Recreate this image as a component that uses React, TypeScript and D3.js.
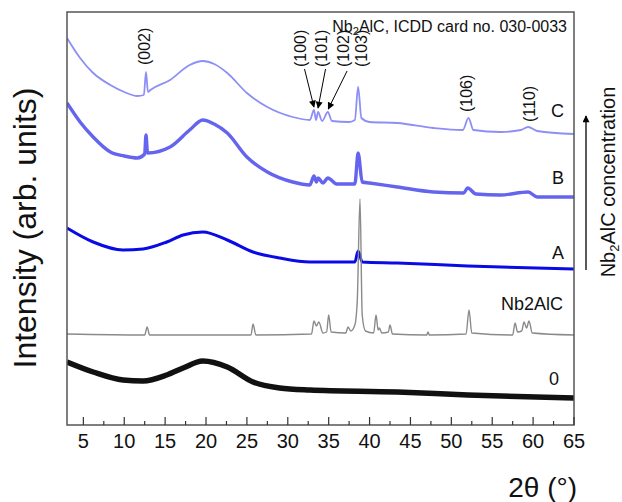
import React from 'react';
import * as d3 from 'd3';

// ---- data (2θ in degrees, intensity in arb. units) ----
const xMajorTicks = [5, 10, 15, 20, 25, 30, 35, 40, 45, 50, 55, 60, 65];
const xMinorTicks = [7.5, 12.5, 17.5, 22.5, 27.5, 32.5, 37.5, 42.5, 47.5, 52.5, 57.5, 62.5];
const xTickLabels = ['5', '10', '15', '20', '25', '30', '35', '40', '45', '50', '55', '60', '65'];

const seriesNames = ['C', 'B', 'A', 'Nb2AlC', '0'];

const seriesC: [number, number][] = [
  [3.0, 387], [4.6, 367], [6.2, 352], [8.3, 340], [10, 333], [11.6, 329], [12.4, 330],
  [12.66, 353], [12.9, 333], [13.2, 335], [15.6, 345], [18.0, 360], [19.6, 364], [21, 361],
  [22.6, 352], [25.0, 332], [27.5, 318], [30.6, 308], [32.7, 305], [33.2, 315], [33.45, 305],
  [33.7, 313], [34.2, 304], [34.9, 313], [35.4, 304], [37.5, 303], [38.2, 305], [38.6, 338],
  [39.0, 307], [40, 303], [43.4, 302], [47.8, 297], [51.4, 295], [52.1, 307], [52.7, 295],
  [56, 293], [58.5, 295], [59.4, 298], [60.5, 294], [65, 291],
];

const seriesB: [number, number][] = [
  [3.0, 322], [4.6, 303], [6.2, 288], [8.3, 273], [10, 269], [11.6, 267], [12.5, 271],
  [12.66, 290], [12.85, 272], [15.6, 278], [18.0, 295], [19.6, 305], [21, 301], [22.6, 292],
  [25.0, 268], [27.5, 253], [30.6, 243], [32.7, 240], [33.2, 249], [33.5, 243], [33.7, 247],
  [34.3, 242], [34.9, 247], [36, 241], [38.2, 241], [38.6, 272], [39.1, 243], [40, 242],
  [43.4, 238], [47.8, 233], [51.5, 232], [52.0, 237], [53, 231], [56, 230], [59.4, 233],
  [60.5, 228], [65, 228],
];

const seriesA: [number, number][] = [
  [3.0, 197], [6.2, 183], [9.85, 175], [12.3, 176], [15.2, 183], [17.2, 190], [19.6, 193],
  [22.6, 185], [25.75, 173], [29, 167], [32.7, 163], [38.2, 163], [38.6, 174], [39.1, 163],
  [43.4, 162], [52, 159], [65, 156],
];

const seriesNb2AlC: [number, number][] = [
  [3.0, 91], [12.5, 90], [12.8, 98], [13.1, 90], [25.5, 90], [25.75, 101], [26.1, 90],
  [32.9, 91], [33.2, 104], [33.5, 99], [33.8, 103], [34.3, 92], [34.75, 93], [35.0, 110],
  [35.3, 93], [37.1, 92], [37.36, 98], [37.7, 94], [38.2, 100], [38.5, 125], [38.83, 226],
  [39.1, 110], [39.5, 94], [40.5, 92], [40.79, 110], [41.05, 95], [41.2, 97], [41.5, 92],
  [42.3, 93], [42.5, 100], [42.8, 91], [47.0, 90], [47.15, 93], [47.3, 90], [51.8, 91],
  [52.16, 115], [52.5, 92], [57.5, 90], [57.79, 102], [58.1, 93], [58.6, 94], [58.89, 103],
  [59.2, 97], [59.5, 104], [59.9, 92], [65, 90],
];

const series0: [number, number][] = [
  [3.0, 63], [6.2, 53], [9.85, 45], [12.3, 44], [15.2, 50], [17.2, 57], [19.6, 64],
  [22.6, 58], [25.75, 43], [29, 37], [32.7, 35], [43.4, 33], [52, 30], [65, 27],
];

const peakLabels = ['(002)', '(100)', '(101)', '(102)', '(103)', '(106)', '(110)'];
const peakLabelPos = [12.66, 31.68, 34.25, 36.88, 39.14, 51.98, 59.62];
const peakArrowTargets = [null, 33.2, 33.7, 34.95, null, null, null];

// ---- layout ----
const W = 622;
const H = 502;
const L = 67, R = 574, T = 12, B = 425;
const FONT = "'Liberation Sans', Arial, Helvetica, sans-serif";

export default function App() {
  const x = d3.scaleLinear().domain([3, 65]).range([L, R]);
  const y = d3.scaleLinear().domain([0, 413]).range([B, T]);
  const line = d3
    .line<[number, number]>()
    .x((d) => x(d[0]))
    .y((d) => y(d[1]))
    .curve(d3.curveMonotoneX);

  const curves = [
    { data: seriesC, color: '#8e8ef7', w: 1.8 },
    { data: seriesB, color: '#6464ef', w: 3.4 },
    { data: seriesA, color: '#0a0ae6', w: 3 },
    { data: seriesNb2AlC, color: '#8a8a8a', w: 1.4 },
    { data: series0, color: '#111111', w: 5.5 },
  ];

  const labelPos = [
    { x: 564, y: 116.5 },
    { x: 564, y: 183.5 },
    { x: 564, y: 258.5 },
    { x: 563, y: 309.5 },
    { x: 559, y: 384.5 },
  ];
  const peakBottoms = [65, 67, 67, 67, 67, 112, 122];
  const arrowTops = [null, 69, 69, 71, null, null, null];
  const arrowTipY = [null, 107, 108, 109, null, null, null];

  return (
    <svg
      width={W}
      height={H}
      viewBox={`0 0 ${W} ${H}`}
      style={{ position: 'absolute', left: 0, top: 0, background: '#fff' }}
      fontFamily={FONT}
    >
      <defs>
        <marker id="ah" viewBox="0 0 10 10" refX="9" refY="5" markerWidth="9" markerHeight="7" orient="auto" markerUnits="userSpaceOnUse">
          <path d="M0,0 L10,5 L0,10 z" fill="#000" />
        </marker>
        <marker id="ah2" viewBox="0 0 10 10" refX="9" refY="5" markerWidth="10" markerHeight="7" orient="auto" markerUnits="userSpaceOnUse">
          <path d="M0,0 L10,5 L0,10 z" fill="#000" />
        </marker>
        <clipPath id="plotclip">
          <rect x={L} y={T} width={R - L} height={B - T} />
        </clipPath>
      </defs>
      <rect x={0} y={0} width={W} height={H} fill="#fff" />

      <g clipPath="url(#plotclip)">
        {curves.map((c, i) => (
          <path key={i} d={line(c.data) || ''} fill="none" stroke={c.color} strokeWidth={c.w} strokeLinejoin="round" />
        ))}
      </g>

      {/* frame */}
      <rect x={L} y={T} width={R - L} height={B - T} fill="none" stroke="#555" strokeWidth={1.5} />

      {/* x ticks (inward) */}
      {xMajorTicks.map((t) => (
        <line key={'M' + t} x1={x(t)} x2={x(t)} y1={B} y2={B - 8} stroke="#333" strokeWidth={1.2} />
      ))}
      {xMinorTicks.map((t) => (
        <line key={'m' + t} x1={x(t)} x2={x(t)} y1={B} y2={B - 4} stroke="#333" strokeWidth={1.2} />
      ))}
      {xMajorTicks.map((t, i) => (
        <text key={'l' + t} x={x(t)} y={448} textAnchor="middle" fontSize={20} fill="#111">
          {xTickLabels[i]}
        </text>
      ))}

      {/* axis titles */}
      <text x={577} y={497} textAnchor="end" fontSize={28} fill="#111">
        2θ (°)
      </text>
      <text transform="translate(36,228) rotate(-90)" textAnchor="middle" fontSize={32} fill="#111">
        Intensity (arb. units)
      </text>

      {/* right annotation */}
      <text transform="translate(615,182) rotate(-90)" textAnchor="middle" fontSize={20} fill="#111">
        Nb<tspan fontSize={13} dy={4}>2</tspan>
        <tspan dy={-4}>AlC concentration</tspan>
      </text>
      <line x1={586} x2={586} y1={270} y2={116} stroke="#000" strokeWidth={1.3} markerEnd="url(#ah2)" />

      {/* card label */}
      <text x={567} y={32} textAnchor="end" fontSize={16} fill="#111">
        Nb<tspan fontSize={11} dy={3}>2</tspan>
        <tspan dy={-3}>AlC, ICDD card no. 030-0033</tspan>
      </text>

      {/* peak labels */}
      {peakLabels.map((p, i) => (
        <text
          key={p}
          transform={`translate(${x(peakLabelPos[i]) + 4.5},${peakBottoms[i]}) rotate(-90)`}
          textAnchor="start"
          fontSize={16}
          fill="#111"
        >
          {p}
        </text>
      ))}
      {peakArrowTargets.map((t, i) =>
        t === null ? null : (
          <line
            key={'a' + i}
            x1={x(peakLabelPos[i]) + 3}
            y1={arrowTops[i] as number}
            x2={x(t)}
            y2={arrowTipY[i] as number}
            stroke="#000"
            strokeWidth={1}
            markerEnd="url(#ah)"
          />
        )
      )}

      {/* series labels */}
      {seriesNames.map((n, i) => (
        <text key={n} x={labelPos[i].x} y={labelPos[i].y} textAnchor="end" fontSize={18} fill="#111">
          {n}
        </text>
      ))}
    </svg>
  );
}
